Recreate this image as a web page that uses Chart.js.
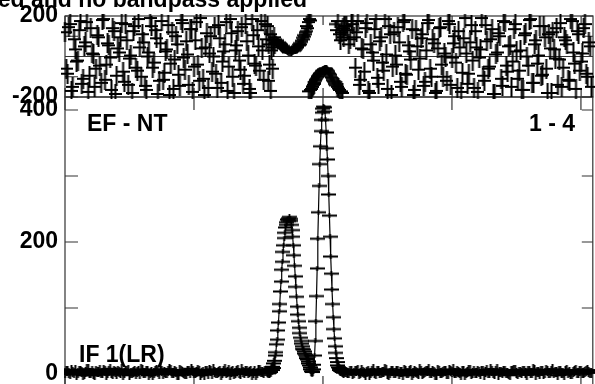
<!DOCTYPE html>
<html>
<head>
<meta charset="utf-8">
<script src="https://cdn.jsdelivr.net/npm/chart.js@4.4.1/dist/chart.umd.min.js"></script>
<style>
  html, body { margin: 0; padding: 0; background: #fff; overflow: hidden; }
  #wrap { position: relative; width: 595px; height: 384px; overflow: hidden; background: #fff; }
  canvas { position: absolute; left: 0; }
  #phase { top: -20px; }
  #amp { top: 57px; }
  .lbl { position: absolute; font: bold 23px "Liberation Sans", Arial, sans-serif; line-height: 23px; white-space: nowrap; color: #000; }
</style>
</head>
<body>
<div id="wrap">
  <canvas id="amp" width="600" height="350"></canvas>
  <canvas id="phase" width="600" height="140"></canvas>
  <div class="lbl" style="right:288px; top:-12.5px;">ed and no bandpass applied</div>
  <div class="lbl" style="left:87px; top:112px;">EF - NT</div>
  <div class="lbl" style="right:20px; top:112px;">1 - 4</div>
  <div class="lbl" style="left:79px; top:343px;">IF 1(LR)</div>
</div>
<script>
// axis marks
const chanTicks = [0, 100, 200, 300, 400];
const phaseTicks = [-200, -100, 0, 100, 200];
const phaseLabels = [-200, 200];
const ampTicks = [0, 100, 200, 300, 400];
const ampLabels = [0, 200, 400];

// channel segments: [first channel, step]
const segLow = [0, 2];
const segLowOdd = [1, 2];
const segPeak = [157, 0.5];
const segHigh = [218, 2];
const segHighOdd = [219, 2];

// amplitude
const ampLow = [
  2, 5, 0, 3, 6, 1, 4, -2, 3, 7,
  2, 0, 5, 3, 1, 6, -1, 4, 2, 5,
  0, 3, 7, 1, 4, -2, 2, 5, 3, 0,
  6, 2, 4, 1, -1, 5, 3, 7, 0, 2,
  4, 6, 1, 3, -2, 5, 2, 0, 4, 8,
  1, 3, 5, 2, -1, 4, 6, 0, 3, 2,
  5, 1, 7, 3, -2, 4, 2, 6, 0, 3,
  5, 1, 4, 2, -1, 6, 3, 2, 4
];
const ampLowOdd = [
  4, 1, 6, 2, -1, 5, 3, 0, 7, 2,
  4, -2, 3, 6, 1, 5, 2, 8, 0, 3,
  5, 1, -1, 4, 6, 2, 3, 0, 5, 7,
  1, 4, -2, 3, 2, 6, 0, 5, 3, 1,
  7, 2, 4, -1, 6, 3, 0, 5, 2, 4,
  1, 6, -2, 3, 5, 0, 4, 7, 2, 3,
  -1, 5, 1, 6, 3, 0, 4, 2, 7, 1,
  5, 3, -1, 4, 2, 6, 3, 5
];
const ampPeak = [
  3, 1, 4, 2, 5, 3, 8, 6, 11, 9,
  16, 20, 28, 33, 45, 52, 66, 78, 95, 106,
  125, 140, 158, 170, 185, 195, 206, 214, 222, 226,
  230, 234, 236, 232, 238, 235, 232, 226, 218, 208,
  195, 180, 164, 148, 132, 117, 102, 90, 80, 70,
  62, 55, 50, 46, 42, 38, 37, 34, 31, 29,
  27, 24, 22, 19, 16, 13, 10, 7, 4, 3,
  4, 7, 14, 28, 50, 80, 118, 160, 205, 245,
  285, 318, 345, 368, 385, 396, 402, 405, 404, 398,
  385, 366, 342, 325, 300, 272, 240, 208, 178, 152,
  128, 106, 86, 68, 54, 42, 32, 24, 18, 13,
  10, 8, 6, 5, 4, 6, 3, 5, 2, 4,
  3
];
const ampHigh = [
  3, 1, 5, 2, 4, 0, 6, 2, 3, -1,
  4, 2, 5, 1, 3, 7, 0, 2, 4, 1,
  5, 3, -2, 4, 2, 6, 1, 3, 0, 5,
  2, 4, 7, 1, 3, -1, 5, 2, 4, 0,
  6, 3, 1, 4, 2, 5, -2, 3, 6, 1,
  2, 4, 0, 5, 3, 1, 7, 2, 4, -1,
  3, 5, 2, 0, 4, 6, 1, 3, 2, 5,
  -1, 4, 2, 6, 3, 0, 5, 1, 4, 2,
  7, 3, -2, 4, 1, 5, 2, 0, 3, 6,
  2, 4, 1, 5, 3, 2
];
const ampHighOdd = [
  2, 5, 0, 4, 6, 1, 3, -2, 5, 2,
  7, 0, 4, 1, 3, 6, -1, 5, 2, 4,
  0, 3, 6, 1, 5, -2, 4, 2, 7, 0,
  3, 5, 1, 4, -1, 6, 2, 3, 5, 0,
  4, 7, 1, 3, -2, 5, 2, 6, 0, 4,
  1, 3, 5, -1, 6, 2, 4, 0, 7, 3,
  1, 5, 2, -2, 4, 6, 0, 3, 5, 1,
  4, 2, 7, -1, 3, 5, 0, 6, 2, 4,
  1, 3, 5, 2, -1, 6, 3, 0, 4, 2,
  5, 1, 3, 6, 2
];

// phase (degrees)
const phaseLow = [
  120, -85, 160, -150, 35, -20, 175, -110, 70, -175,
  140, 10, -60, 95, -130, 185, -40, 55, -165, 125,
  -95, 20, 165, -125, 80, -10, -180, 150, -70, 45,
  110, -145, 0, 190, -55, 130, -185, 65, -115, 25,
  155, -35, -160, 100, -90, 180, -5, 75, -140, 135,
  -50, 170, -120, 40, -190, 115, 15, -75, 145, -155,
  90, -25, 60, -170, 185, -100, 30, 125, -65, -135,
  160, 5, -180, 105, -45, 50, 175, -115, 85
];
const phaseLowOdd = [
  -60, 145, -170, 85, -25, 130, -135, 50, 170, -95,
  15, -150, 105, -45, 180, -115, 65, -5, 140, -185,
  40, 95, -75, 160, -140, 5, 125, -55, 185, -100,
  70, -165, 20, 150, -30, 90, -120, 175, -80, 35,
  -190, 120, -15, 60, -145, 165, -65, 10, 135, -175,
  80, -40, 190, -110, 45, -155, 100, 0, -85, 155,
  -130, 25, 170, -50, 115, -180, 55, -20, 145, -95,
  75, -160, 185, -35, 130, -70, 30, 160
];
const phasePeak = [
  150, -120, 60, -40, 110, -170, 30, 80, -60, 45,
  95, 60, 70, 85, 65, 75, 80, 60, 70, 58,
  65, 55, 60, 48, 52, 40, 45, 36, 40, 30,
  35, 25, 30, 20, 28, 22, 30, 20, 32, 26,
  35, 28, 40, 32, 45, 38, 50, 45, 58, 55,
  66, 60, 78, 72, 92, 85, 105, 98, 120, 110,
  125, 150, 140, 170, -172, 185, -165, 178, -160, -150,
  -148, -140, -135, -128, -120, -115, -110, -102, -98, -92,
  -88, -84, -80, -76, -72, -69, -66, -64, -62, -61,
  -60, -61, -63, -67, -72, -78, -84, -90, -97, -104,
  -110, -117, -124, -130, -136, 160, -142, 130, -150, 175,
  -158, 110, -165, 80, -172, 120, -180, 140, 95, 150,
  150
];
const phaseHigh = [
  150, 60, 175, 95, 120, -140, 40, -75, 165, -180,
  20, 135, -105, 75, -30, 185, -160, 110, -50, 5,
  145, -125, 170, -85, 55, -15, -190, 130, -65, 90,
  -145, 30, 180, -100, 65, -170, 140, -40, 15, -120,
  160, -5, 100, -155, 45, -80, 190, -135, 70, -20,
  125, -175, 35, -95, 155, -60, 85, -185, 10, 115,
  -110, 175, -45, 50, -150, 135, 25, -70, -165, 105,
  0, 180, -130, 60, -35, 150, -90, 95, -180, 40,
  120, -10, -140, 165, -55, 80, -115, 185, 20, -160,
  110, -25, 140, -85, 70, -150
];
const phaseHighOdd = [
  130, 85, 160, -55, 175, -115, 35, 140, -170, 60,
  -20, 185, -135, 95, -70, 10, 150, -190, 120, -40,
  70, -150, 180, -90, 25, 135, -165, 50, -10, 110,
  -125, 165, -60, 85, -180, 40, 145, -100, 0, 175,
  -140, 65, -30, 125, -175, 90, 15, -85, 155, -155,
  45, -5, 190, -120, 75, -50, 135, -185, 20, 100,
  -145, 170, -75, 55, -25, 160, -110, 30, -165, 115,
  -45, 185, -130, 80, 5, -95, 150, -60, 110, -180,
  35, 140, -15, -150, 95, 60, -120, 175, -35, 125,
  -70, 15, 160, -100, 50
];

function points(seg, vals) {
  return vals.map((v, i) => ({ x: seg[0] + i * seg[1], y: v }));
}
function series(lo, loOdd, pk, hi, hiOdd) {
  return points(segLow, lo).concat(
    points(segLowOdd, loOdd),
    points(segPeak, pk),
    points(segHigh, hi),
    points(segHighOdd, hiOdd)
  ).sort((a, b) => a.x - b.x);
}
const ampData = series(ampLow, ampLowOdd, ampPeak, ampHigh, ampHighOdd);
const phaseData = series(phaseLow, phaseLowOdd, phasePeak, phaseHigh, phaseHighOdd);

// cross markers: the vertical bar shrinks where the signal is strong
function crossMark(w, h, lw) {
  const c = document.createElement('canvas');
  c.width = w; c.height = h;
  const g = c.getContext('2d');
  g.strokeStyle = '#000';
  g.lineWidth = lw;
  g.beginPath();
  g.moveTo(0, h / 2); g.lineTo(w, h / 2);
  g.moveTo(w / 2, 0); g.lineTo(w / 2, h);
  g.stroke();
  return c;
}
const phaseCross = crossMark(13, 20, 2);
const phaseCrossTight = crossMark(13, 7, 2);
const ampCross = crossMark(15, 10, 2);
const ampCrossTight = crossMark(15, 5, 1.8);
const strong = i => ampData[i] && ampData[i].y > 25;

const framePlugin = {
  id: 'frame',
  beforeDatasetsDraw(chart, args, o) {
    const { ctx, chartArea: a, scales } = chart;
    ctx.save();
    ctx.strokeStyle = '#333';
    ctx.lineWidth = 1.2;
    ctx.strokeRect(a.left, a.top, a.right - a.left, a.bottom - a.top);
    ctx.beginPath();
    o.yTicks.forEach(v => {
      const py = scales.y.getPixelForValue(v);
      ctx.moveTo(a.left, py); ctx.lineTo(a.left + 13, py);
      ctx.moveTo(a.right, py); ctx.lineTo(a.right - 11, py);
    });
    chanTicks.forEach(v => {
      const px = scales.x.getPixelForValue(v);
      ctx.moveTo(px, a.top); ctx.lineTo(px, a.top + o.topLen);
      ctx.moveTo(px, a.bottom); ctx.lineTo(px, a.bottom - o.botLen);
    });
    if (o.zero) {
      const py = scales.y.getPixelForValue(0);
      ctx.moveTo(a.left, py); ctx.lineTo(a.right, py);
    }
    ctx.stroke();
    ctx.restore();
  }
};

const tickFont = { family: 'Liberation Sans', size: 23, weight: 'bold' };

function yAxis(min, max, labels) {
  return {
    min: min, max: max,
    afterFit: s => { s.width = 65; },
    afterBuildTicks: s => { s.ticks = labels.map(v => ({ value: v })); },
    grid: { display: false, drawTicks: false },
    border: { display: false },
    ticks: { padding: 7, color: '#000', font: tickFont }
  };
}
const xAxis = { type: 'linear', min: 0, max: 409.2, display: false };

new Chart(document.getElementById('phase'), {
  type: 'line',
  data: {
    datasets: [{
      data: phaseData,
      showLine: false,
      pointStyle: c => strong(c.dataIndex) ? phaseCrossTight : phaseCross,
      pointRadius: 6,
      clip: { left: 4, right: 8, top: 2, bottom: 2 }
    }]
  },
  options: {
    responsive: false,
    devicePixelRatio: 1,
    animation: false,
    events: [],
    layout: { padding: { top: 36, right: 3, bottom: 23, left: 0 } },
    plugins: {
      legend: { display: false },
      tooltip: { enabled: false },
      frame: { yTicks: phaseTicks, topLen: 9, botLen: 9, zero: true }
    },
    scales: { x: xAxis, y: yAxis(-200, 200, phaseLabels) }
  },
  plugins: [framePlugin]
});

new Chart(document.getElementById('amp'), {
  type: 'line',
  data: {
    datasets: [{
      data: ampData,
      borderColor: '#000',
      borderWidth: 1.2,
      tension: 0,
      pointStyle: c => strong(c.dataIndex) ? ampCrossTight : ampCross,
      pointRadius: 6,
      clip: { left: 1, right: 8, top: 4, bottom: 8 }
    }]
  },
  options: {
    responsive: false,
    devicePixelRatio: 1,
    animation: false,
    events: [],
    layout: { padding: { top: 40, right: 3, bottom: 21, left: 0 } },
    plugins: {
      legend: { display: false },
      tooltip: { enabled: false },
      frame: { yTicks: ampTicks, topLen: 13, botLen: 10, zero: false }
    },
    scales: { x: xAxis, y: yAxis(-18.2, 419.7, ampLabels) }
  },
  plugins: [framePlugin]
});
</script>
</body>
</html>
